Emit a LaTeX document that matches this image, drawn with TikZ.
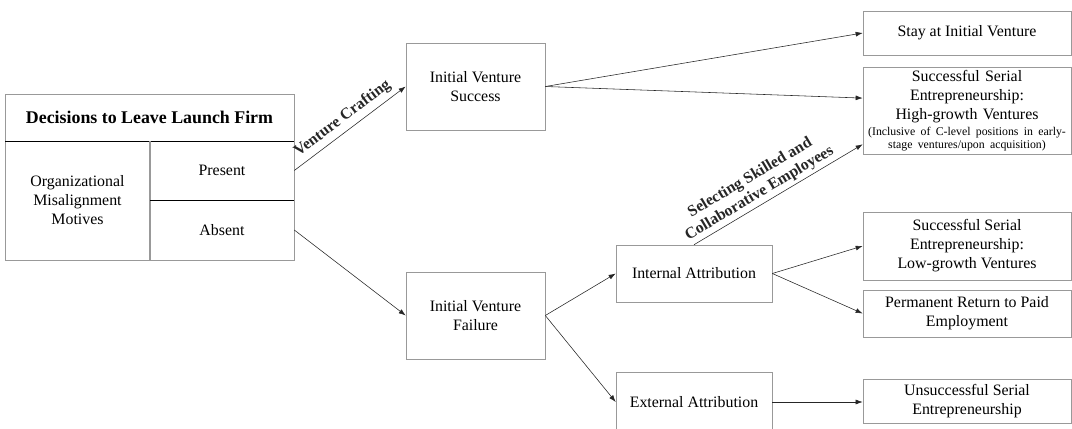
\documentclass[tikz,border=0pt]{standalone}
\usepackage{fontspec}
\setmainfont{Liberation Serif}
\usetikzlibrary{arrows.meta}
\begin{document}
\begin{tikzpicture}[x=0.025cm,y=-0.025cm,
    font=\fontsize{11.3}{13.5}\selectfont,
    box/.style={draw=gray!80,thin,align=center,inner sep=1pt},
    arr/.style={-{Latex[length=5pt,width=3.5pt]},black!85,thin},
    lbl/.style={sloped,above,font=\fontsize{11.3}{13}\selectfont\bfseries}]
  \clip (0,0) rectangle (1072,428);
  % launch firm table
  \draw[gray!80] (5,94) rectangle (294,260);
  \draw (5,141) -- (294,141);
  \draw[gray!80,line width=0.8pt] (150,141) -- (150,260);
  \draw (150,200) -- (294,200);
  \node[font=\fontsize{12.7}{15}\selectfont\bfseries] (title) at (149.5,117.5) {Decisions to Leave Launch Firm};
  \node[align=center] (motives) at (77.5,200) {Organizational\\Misalignment\\Motives};
  \node[minimum width=3.6cm,minimum height=1.475cm] (present) at (222,170.5) {Present};
  \node[minimum width=3.6cm,minimum height=1.5cm] (absent) at (222,230) {Absent};
  % outcomes
  \node[box,minimum width=3.475cm,minimum height=2.175cm] (succ) at (475.5,86.5) {Initial Venture\\Success};
  \node[box,minimum width=3.475cm,minimum height=2.175cm] (fail) at (475.5,315.5) {Initial Venture\\Failure};
  \node[box,minimum width=5.2cm,minimum height=1.1cm] (stay) at (967,33) {Stay at Initial Venture};
  \node[box,minimum width=5.2cm,minimum height=2.175cm,text width=5.1cm] (high) at (967,110.5)
    {Successful Serial\\Entrepreneurship:\\High-growth Ventures\par
     \vspace{3pt}{\fontsize{8.4}{8.6}\selectfont (Inclusive of C-level positions in early-\\stage ventures/upon acquisition)\par}};
  \node[box,minimum width=3.9cm,minimum height=1.425cm] (intl) at (694,273.5) {Internal Attribution};
  \node[box,minimum width=3.9cm,minimum height=1.5cm] (extl) at (694,402) {External Attribution};
  \node[box,minimum width=5.2cm,minimum height=1.7cm] (low) at (967,246) {Successful Serial\\Entrepreneurship:\\Low-growth Ventures};
  \node[box,minimum width=5.2cm,minimum height=1.175cm] (perm) at (967,313.5) {Permanent Return to Paid\\Employment};
  \node[box,minimum width=5.2cm,minimum height=1.1cm] (unsu) at (967,401) {Unsuccessful Serial\\Entrepreneurship};
  % arrows
  \draw[arr] (present.east) -- node[lbl,pos=0.5] (crafting) {Venture Crafting} (succ.west);
  \draw[arr] (absent.east) -- (fail.west);
  \draw[arr] (succ.east) -- (stay.west);
  \draw[arr] (succ.east) -- ([yshift=0.31cm]high.west);
  \draw[arr] (intl.north) -- node[lbl,pos=0.42,align=center,inner sep=2pt] (selecting) {Selecting Skilled and\\Collaborative Employees} ([yshift=0.25cm]high.south west);
  \draw[arr] (fail.east) -- (intl.west);
  \draw[arr] (fail.east) -- (extl.west);
  \draw[arr] (intl.east) -- (low.west);
  \draw[arr] (intl.east) -- (perm.west);
  \draw[arr] (extl.east) -- (extl.east -| unsu.west);
\end{tikzpicture}
\end{document}
